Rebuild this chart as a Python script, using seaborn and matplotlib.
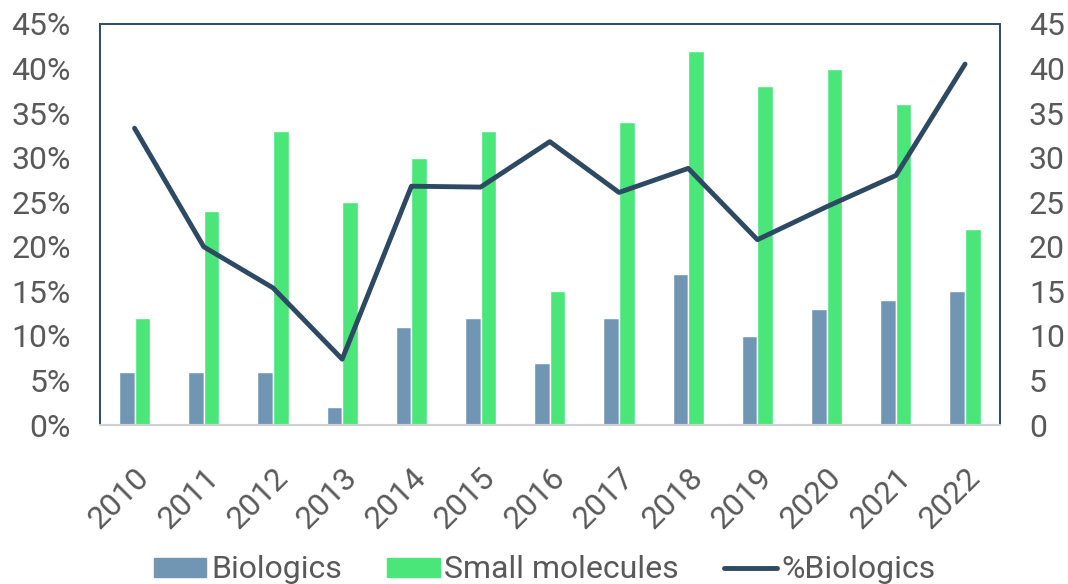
import pandas as pd
import matplotlib.pyplot as plt
import seaborn as sns

years = [str(y) for y in range(2010, 2023)]
biologics = [6, 6, 6, 2, 11, 12, 7, 12, 17, 10, 13, 14, 15]
small_molecules = [12, 24, 33, 25, 30, 33, 15, 34, 42, 38, 40, 36, 22]
pct_biologics = [33.3, 20.0, 15.4, 7.4, 26.8, 26.7, 31.8, 26.1, 28.8, 20.8, 24.5, 28.0, 40.5]

c_bio = "#7096b4"
c_small = "#4ae67a"
c_line = "#2e4a62"
c_text = "#595959"

sns.set_style("white")
plt.rcParams['font.family'] = ['Roboto', 'DejaVu Sans']

bars = pd.DataFrame({
    "year": years * 2,
    "count": biologics + small_molecules,
    "type": ["Biologics"] * len(years) + ["Small molecules"] * len(years),
})

fig = plt.figure(figsize=(10.68, 5.84), dpi=100)
ax = fig.add_axes([0.0936, 0.272, 0.8424, 0.687])

# bars on the base axes (counts shown on the right side)
sns.barplot(data=bars, x="year", y="count", hue="type",
            palette=[c_bio, c_small], width=0.45, ax=ax, legend=False,
            saturation=1)
ax.set_ylim(0, 45)
ax.set_xlim(-0.5, len(years) - 0.5)

# percentage line on the twin axes (shown on the left side)
ax2 = ax.twinx()
sns.lineplot(x=list(range(len(years))), y=pct_biologics, color=c_line,
             linewidth=3.5, ax=ax2, solid_capstyle="round")
ax2.set_ylim(0, 45)
ax2.set_xlim(-0.5, len(years) - 0.5)

ax.set_yticks(range(0, 46, 5))
ax.tick_params(axis="y", left=False, labelleft=False, right=False, labelright=True)
ax2.set_yticks(range(0, 46, 5))
ax2.set_yticklabels([f"{v}%" for v in range(0, 46, 5)])
ax2.tick_params(axis="y", left=False, labelleft=True, right=False, labelright=False)

for a in (ax, ax2):
    a.set_xlabel("")
    a.set_ylabel("")
    a.tick_params(axis="both", length=0, labelsize=23, colors=c_text, pad=21)
    for side in ("left", "top", "right"):
        a.spines[side].set_color(c_line)
        a.spines[side].set_linewidth(1.2)
    a.spines["bottom"].set_color("#d0d0d0")
    a.spines["bottom"].set_linewidth(1.5)

ax.set_xticks(range(len(years)))
ax.set_xticklabels(years, rotation=45, ha="right", rotation_mode="anchor")
ax.tick_params(axis="x", labelsize=23, pad=27)

handles = [
    plt.Rectangle((0, 0), 1, 1, color=c_bio),
    plt.Rectangle((0, 0), 1, 1, color=c_small),
    plt.Line2D([0], [0], color=c_line, linewidth=3.5, solid_capstyle="round"),
]
fig.legend(handles, ["Biologics", "Small molecules", "%Biologics"],
           loc="lower center", bbox_to_anchor=(0.51, -0.05), ncol=3,
           frameon=False, fontsize=23, labelcolor=c_text,
           handlelength=1.65, handleheight=0.55, handletextpad=0.15,
           columnspacing=1.4)

fig.savefig("out.png", dpi=100)
